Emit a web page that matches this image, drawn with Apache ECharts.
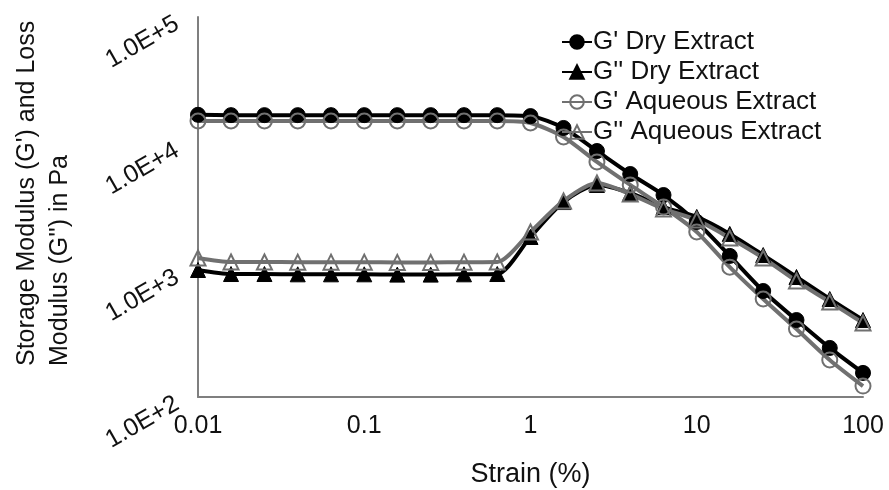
<!DOCTYPE html>
<html>
<head>
<meta charset="utf-8">
<script src="https://cdn.jsdelivr.net/npm/echarts@6/dist/echarts.min.js"></script>
<style>
  html, body { margin: 0; padding: 0; background: #fff; }
  #chart { width: 889px; height: 490px; }
</style>
</head>
<body>
<div id="chart"></div>
<script>
// Strain sweep points (%), five per decade
var strain = [0.01, 0.0158, 0.0251, 0.0398, 0.0631, 0.1, 0.158, 0.251, 0.398, 0.631,
              1, 1.58, 2.51, 3.98, 6.31, 10, 15.8, 25.1, 39.8, 63.1, 100];

// Moduli in Pa
var gPrimeDry      = [16900, 16800, 16800, 16800, 16800, 16800, 16800, 16800, 16800, 16800,
                      16500, 13300, 8750, 5760, 3930, 2410, 1300, 687, 405, 244, 155];
var gDoublePrimeDry = [1006, 935, 935, 930, 930, 930, 925, 925, 930, 935,
                      1833, 3460, 4720, 4080, 3160, 2640, 1940, 1320, 886, 594, 405];
var gPrimeAq       = [15100, 15100, 15100, 15100, 15100, 15100, 15100, 15100, 15100, 15100,
                      14560, 11290, 7170, 4720, 3160, 2010, 1060, 594, 344, 196, 122];
var gDoublePrimeAq = [1252, 1164, 1164, 1160, 1160, 1160, 1155, 1155, 1160, 1164,
                      2010, 3530, 4890, 4000, 3050, 2500, 1800, 1252, 824, 562, 384];

var seriesNames = ["G' Dry Extract", "G'' Dry Extract", "G' Aqueous Extract", "G'' Aqueous Extract"];
var yAxisTitle = "Storage Modulus (G') and Loss\nModulus (G'') in Pa";
var xAxisTitle = "Strain (%)";

function pairs(ys) {
  return strain.map(function (x, i) { return [x, ys[i]]; });
}

var FONT = '"Liberation Sans", Arial, sans-serif';
var DARK = '#000000';
var GREY = '#707070';

function makeSeries(name, ys, color, symbol, filled) {
  return {
    name: name,
    type: 'line',
    data: pairs(ys),
    smooth: 0.25,
    symbol: symbol,
    symbolSize: 15,
    showSymbol: true,
    lineStyle: { color: color, width: 4 },
    itemStyle: filled
      ? { color: color, borderColor: color, borderWidth: 1 }
      : { color: 'rgba(255,255,255,0)', borderColor: color, borderWidth: 2 },
    emphasis: { disabled: true },
    animation: false
  };
}

var chart = echarts.init(document.getElementById('chart'));
chart.setOption({
  animation: false,
  backgroundColor: '#ffffff',
  grid: { left: 198, right: 26, top: 17, bottom: 93, containLabel: false, outerBoundsMode: 'none' },
  legend: {
    orient: 'vertical',
    left: 556,
    top: 22,
    itemWidth: 30,
    itemHeight: 17,
    itemGap: 0,
    textStyle: { fontFamily: FONT, fontSize: 26, color: '#111', lineHeight: 30, padding: [0, 0, 0, -4] },
    data: seriesNames
  },
  xAxis: {
    type: 'log',
    logBase: 10,
    min: 0.01,
    max: 100,
    name: xAxisTitle,
    nameLocation: 'middle',
    nameGap: 64,
    nameTextStyle: { fontFamily: FONT, fontSize: 27, color: '#111' },
    axisLine: { show: true, lineStyle: { color: '#7f7f7f', width: 2 } },
    axisTick: { show: false },
    splitLine: { show: false },
    axisLabel: {
      fontFamily: FONT, fontSize: 25, color: '#111', margin: 17,
      formatter: function (v) { return String(v); }
    }
  },
  yAxis: {
    type: 'log',
    logBase: 10,
    min: 100,
    max: 100000,
    axisLine: { show: true, lineStyle: { color: '#7f7f7f', width: 2 } },
    axisTick: { show: false },
    splitLine: { show: false },
    axisLabel: {
      fontFamily: FONT, fontSize: 25, color: '#111', margin: 24, rotate: 30,
      verticalAlign: 'top', lineHeight: 12,
      formatter: function (v) { return '1.0E+' + Math.round(Math.log10(v)); }
    }
  },
  graphic: [{
    type: 'text',
    x: 44,
    y: 366,
    rotation: Math.PI / 2,
    style: {
      text: yAxisTitle,
      font: '25px ' + FONT,
      fill: '#111',
      textAlign: 'left',
      textVerticalAlign: 'middle',
      lineHeight: 33
    }
  }],
  series: [
    makeSeries(seriesNames[0], gPrimeDry, DARK, 'circle', true),
    makeSeries(seriesNames[1], gDoublePrimeDry, DARK, 'triangle', true),
    makeSeries(seriesNames[2], gPrimeAq, GREY, 'circle', false),
    makeSeries(seriesNames[3], gDoublePrimeAq, GREY, 'triangle', false)
  ]
});
</script>
</body>
</html>
